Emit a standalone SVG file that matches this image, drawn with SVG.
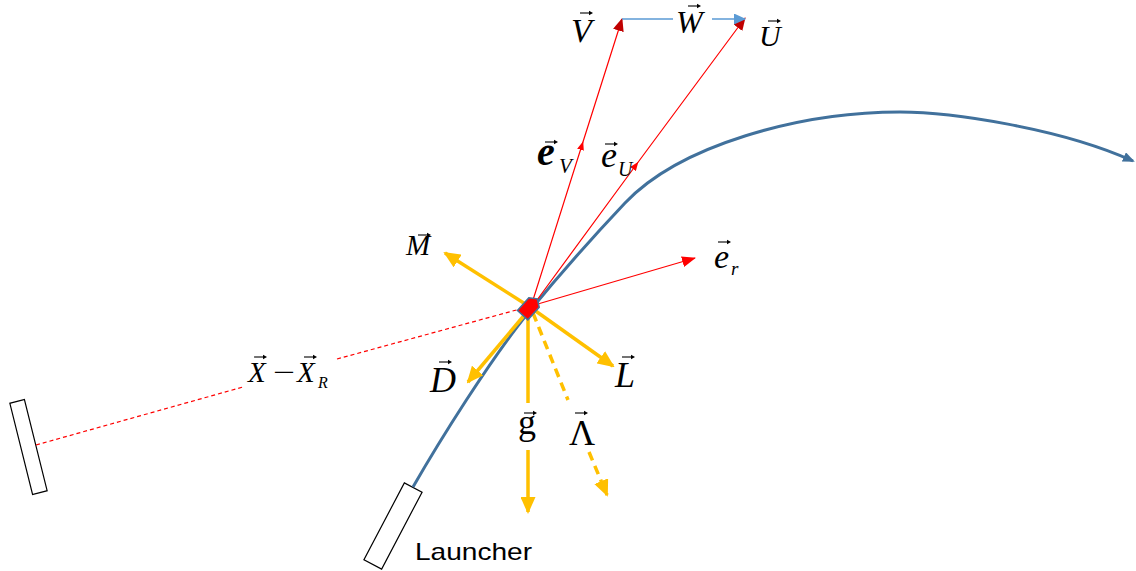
<svg xmlns="http://www.w3.org/2000/svg" xmlns:xlink="http://www.w3.org/1999/xlink" width="1136" height="571" viewBox="0 0 1136 571">
<style>
.m{font-family:"Liberation Serif","Times New Roman",serif;font-style:italic;fill:#000}
.u{font-family:"Liberation Serif","Times New Roman",serif;font-style:normal;fill:#000}
.cal{font-family:"Liberation Sans",Arial,sans-serif;fill:#000}
.red{stroke:#ff0000;stroke-width:1.2;fill:none}
.org{stroke:#ffc000;stroke-width:3.5;fill:none}
.box{fill:#fff;stroke:#000;stroke-width:1.2}
</style>
<defs>
<marker id="aOrg" markerUnits="userSpaceOnUse" markerWidth="17" markerHeight="15" refX="15" refY="7.5" orient="auto" viewBox="0 0 17 15"><path d="M0,0 L17,7.5 L0,15 z" fill="#ffc000"/></marker>
<marker id="aDR" markerUnits="userSpaceOnUse" markerWidth="13" markerHeight="11" refX="12" refY="5.5" orient="auto" viewBox="0 0 13 11"><path d="M0,0 L13,5.5 L0,11 z" fill="#c00000"/></marker>
<marker id="aR" markerUnits="userSpaceOnUse" markerWidth="14" markerHeight="11" refX="13" refY="5.5" orient="auto" viewBox="0 0 14 11"><path d="M0,0 L14,5.5 L0,11 z" fill="#ff0000"/></marker>
<marker id="aMid" markerUnits="userSpaceOnUse" markerWidth="9" markerHeight="7" refX="5" refY="3.5" orient="auto" viewBox="0 0 9 7"><path d="M0,0 L9,3.5 L0,7 z" fill="#ff0000"/></marker>
<marker id="aB" markerUnits="userSpaceOnUse" markerWidth="12" markerHeight="11" refX="11" refY="5.5" orient="auto" viewBox="0 0 12 11"><path d="M0,0 L12,5.5 L0,11 z" fill="#5b9bd5"/></marker>
<marker id="aT" markerUnits="userSpaceOnUse" markerWidth="12" markerHeight="10" refX="10" refY="5" orient="auto" viewBox="0 0 12 10"><path d="M0,0 L12,5 L0,10 z" fill="#41719c"/></marker>
<g id="vec"><path d="M0,0 H10" stroke="#000" stroke-width="1.1"/><path d="M9,-2.3 L13,0 L9,2.3 z" fill="#000"/></g>
</defs>

<g id="receiver"><rect class="box" x="21" y="400" width="15" height="94" transform="rotate(-14 28.5 447)"/></g>
<g id="launcher"><rect class="box" x="383" y="482.5" width="20" height="87" transform="rotate(27.7 393 526)"/>
<text class="cal" x="415" y="560" font-size="24" textLength="117" lengthAdjust="spacingAndGlyphs">Launcher</text></g>

<g id="connectors">
<path id="trajectory" d="M413,487 C440,440 490,360 528,313 C560,274 590,240 625,203 C680,145 800,112 900,112 C950,112 1060,128 1133,161" fill="none" stroke="#41719c" stroke-width="3" marker-end="url(#aT)"/>
<path id="los" d="M36,445 L243,387 M337,359 L520,309" class="red" stroke-dasharray="4 3"/>
<path id="eV" d="M533,300 L582,145 L622,19" class="red" marker-mid="url(#aMid)" marker-end="url(#aDR)"/>
<path id="eU" d="M537,300 L636,165 L745,18" class="red" marker-mid="url(#aMid)" marker-end="url(#aDR)"/>
<path id="er" d="M531,306 L695,258" class="red" marker-end="url(#aR)"/>
<path id="W" d="M622,19 H673 M712,19 H745" fill="none" stroke="#5b9bd5" stroke-width="1.5" marker-end="url(#aB)"/>
<path id="Mv" d="M530,307 L445,253" class="org" marker-end="url(#aOrg)"/>
<path id="Lv" d="M530,307 L613,366" class="org" marker-end="url(#aOrg)"/>
<path id="Dv" d="M527,312 L468,382" class="org" marker-end="url(#aOrg)"/>
<path id="gv" d="M528,315 V403 M528,450 V512" class="org" marker-end="url(#aOrg)"/>
<path id="Lam" d="M533,313 L568,400 M589,452 L607,495" class="org" stroke-dasharray="9 6" marker-end="url(#aOrg)"/>
</g>

<g id="vehicle"><polygon points="-7,11 -7,-6 0,-11 7,-6 7,11" fill="#ff0000" stroke="#41719c" stroke-width="1.5" transform="translate(530,307) rotate(42)"/></g>

<g id="labels">
<g id="lV"><text class="m" x="571" y="42" font-size="34">V</text><use xlink:href="#vec" x="580" y="13"/></g>
<g id="lW"><text class="m" x="676" y="33" font-size="32">W</text><use xlink:href="#vec" x="688" y="6"/></g>
<g id="lU"><text class="m" x="759" y="46" font-size="30">U</text><use xlink:href="#vec" x="768" y="21"/></g>
<g id="leV"><text class="m" x="537" y="165" font-size="40" font-weight="bold">e</text><text class="m" x="559" y="173" font-size="21">V</text><use xlink:href="#vec" x="545" y="142"/></g>
<g id="leU"><text class="m" x="601" y="167" font-size="36">e</text><text class="m" x="618" y="176" font-size="20">U</text><use xlink:href="#vec" x="605" y="144"/></g>
<g id="ler"><text class="m" x="714" y="268" font-size="34">e</text><text class="m" x="731" y="275" font-size="19">r</text><use xlink:href="#vec" x="718" y="242"/></g>
<g id="lM"><text class="m" x="406" y="255" font-size="29">M</text><use xlink:href="#vec" x="418" y="235"/></g>
<g id="lL"><text class="m" x="615" y="387" font-size="36">L</text><use xlink:href="#vec" x="622" y="357"/></g>
<g id="lD"><text class="m" x="430" y="392" font-size="36">D</text><use xlink:href="#vec" x="439" y="362"/></g>
<g id="lg"><text class="u" x="518" y="434" font-size="36">g</text><use xlink:href="#vec" x="524" y="413"/></g>
<g id="lLam"><text class="u" x="569" y="445" font-size="36">Λ</text><use xlink:href="#vec" x="575" y="413"/></g>
<g id="lX"><text class="m" x="248" y="382" font-size="29">X</text><text class="u" x="273" y="382" font-size="29" textLength="22" lengthAdjust="spacingAndGlyphs">−</text><text class="m" x="297" y="382" font-size="29">X</text><text class="m" x="318" y="388" font-size="16">R</text><use xlink:href="#vec" x="254" y="357"/><use xlink:href="#vec" x="304" y="357"/></g>
</g>
</svg>
